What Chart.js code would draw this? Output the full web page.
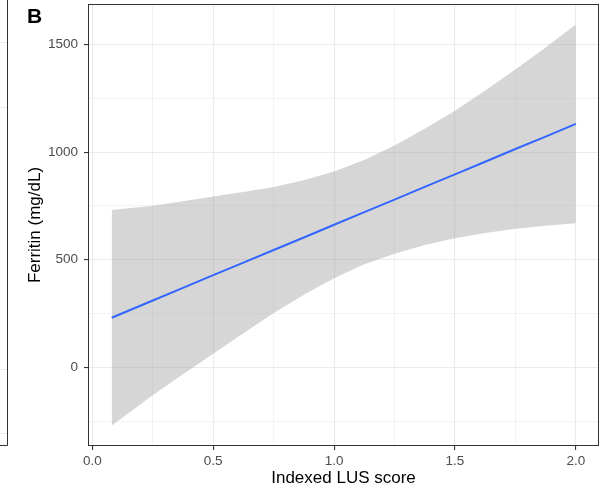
<!DOCTYPE html>
<html lang="en">

<head>
    <meta charset="UTF-8">
    <title>Ferritin vs Indexed LUS score</title>
    <script src="https://cdn.jsdelivr.net/npm/chart.js"></script>
    <style>
        body { margin: 0; background: #fff; }
        #wrap { width: 608px; height: 493px; position: relative; }
    </style>
</head>

<body>
    <div id="wrap">
        <canvas id="myChart"></canvas>
    </div>
    <script>
        // values
        var scoreX = [0.08, 0.25, 0.375, 0.5, 0.625, 0.75, 0.875, 1.0, 1.125, 1.25, 1.375, 1.5, 1.625, 1.75, 1.875, 2.0];
        var fitLine = [230, 310, 369, 428, 486, 545, 603, 662, 721, 779, 838, 896, 955, 1014, 1072, 1131];
        var upperCI = [731, 750, 771, 793, 814, 838, 869, 910, 963, 1031, 1108, 1192, 1286, 1384, 1486, 1593];
        var lowerCI = [-271, -130, -33, 63, 158, 252, 337, 414, 479, 527, 568, 600, 624, 644, 658, 669];
        var xTickLabels = [0, 0.5, 1, 1.5, 2];
        var yTickLabels = [0, 500, 1000, 1500];
        // grid lines (major + minor)
        var xGrid = [0, 0.25, 0.5, 0.75, 1, 1.25, 1.5, 1.75, 2];
        var yGrid = [-250, 0, 250, 500, 750, 1000, 1250, 1500];

        function pts(ys) {
            return scoreX.map(function (x, i) { return { x: x, y: ys[i] }; });
        }
        function isMajor(list, v) {
            return list.some(function (m) { return Math.abs(m - v) < 1e-6; });
        }

        var framePlugin = {
            id: 'frame',
            afterDraw: function (chart) {
                var c = chart.ctx, a = chart.chartArea;
                c.save();
                c.strokeStyle = '#333333';
                c.lineWidth = 1;
                c.strokeRect(Math.round(a.left) + 0.5, Math.round(a.top) + 0.5,
                    Math.round(a.right - a.left) - 1, Math.round(a.bottom - a.top) - 1);
                // edge of the neighbouring panel
                c.strokeStyle = '#ebebeb';
                [42, 107, 369, 433].forEach(function (y) {
                    c.beginPath(); c.moveTo(0, y + 0.5); c.lineTo(7, y + 0.5); c.stroke();
                });
                c.strokeStyle = '#333333';
                c.beginPath();
                c.moveTo(0, 445.5); c.lineTo(7.5, 445.5); c.lineTo(7.5, 0);
                c.stroke();
                // panel tag
                c.fillStyle = '#000';
                c.font = 'bold 21px "Liberation Sans", Arial, sans-serif';
                c.textBaseline = 'alphabetic';
                c.fillText('B', 27, 23);
                c.restore();
            }
        };

        var ctx01 = document.getElementById('myChart');
        var chart01 = new Chart(ctx01, {
            type: 'line',
            data: {
                datasets: [{
                    label: 'fit',
                    data: pts(fitLine),
                    borderColor: '#3366FF',
                    borderWidth: 2,
                    pointRadius: 0,
                    fill: false
                }, {
                    label: 'upper',
                    data: pts(upperCI),
                    borderWidth: 0,
                    borderColor: 'rgba(0,0,0,0)',
                    backgroundColor: 'rgba(153,153,153,0.4)',
                    pointRadius: 0,
                    fill: '+1'
                }, {
                    label: 'lower',
                    data: pts(lowerCI),
                    borderWidth: 0,
                    borderColor: 'rgba(0,0,0,0)',
                    pointRadius: 0,
                    fill: false
                }]
            },
            options: {
                responsive: true,
                maintainAspectRatio: false,
                animation: false,
                layout: { padding: { left: 0, right: 9, top: 4, bottom: 0 } },
                plugins: {
                    legend: { display: false },
                    tooltip: { enabled: false }
                },
                scales: {
                    x: {
                        type: 'linear',
                        min: -0.018,
                        max: 2.096,
                        afterBuildTicks: function (s) { s.ticks = xGrid.map(function (v) { return { value: v }; }); },
                        afterFit: function (s) { s.height = 47; s.paddingLeft = 0; s.paddingRight = 0; },
                        border: { display: false },
                        grid: {
                            color: '#ebebeb',
                            lineWidth: function (c) { return c.tick && isMajor(xTickLabels, c.tick.value) ? 1.1 : 0.6; },
                            tickColor: function (c) { return c.tick && isMajor(xTickLabels, c.tick.value) ? '#333333' : 'rgba(0,0,0,0)'; },
                            tickLength: 4
                        },
                        ticks: {
                            autoSkip: false,
                            maxRotation: 0,
                            padding: 3,
                            color: '#4d4d4d',
                            font: { family: '"Liberation Sans", Arial, sans-serif', size: 13.5 },
                            callback: function (v) { return isMajor(xTickLabels, v) ? v.toFixed(1) : ''; }
                        },
                        title: {
                            display: true,
                            text: 'Indexed LUS score',
                            color: '#000',
                            font: { family: '"Liberation Sans", Arial, sans-serif', size: 17 },
                            padding: { top: 0, bottom: 4 }
                        }
                    },
                    y: {
                        type: 'linear',
                        min: -366,
                        max: 1688,
                        afterBuildTicks: function (s) { s.ticks = yGrid.map(function (v) { return { value: v }; }); },
                        afterFit: function (s) { s.width = 88; s.paddingTop = 0; s.paddingBottom = 0; },
                        border: { display: false },
                        grid: {
                            color: '#ebebeb',
                            lineWidth: function (c) { return c.tick && isMajor(yTickLabels, c.tick.value) ? 1.1 : 0.6; },
                            tickColor: function (c) { return c.tick && isMajor(yTickLabels, c.tick.value) ? '#333333' : 'rgba(0,0,0,0)'; },
                            tickLength: 4
                        },
                        ticks: {
                            autoSkip: false,
                            padding: 6,
                            color: '#4d4d4d',
                            font: { family: '"Liberation Sans", Arial, sans-serif', size: 13.5 },
                            callback: function (v) { return isMajor(yTickLabels, v) ? String(v) : ''; }
                        },
                        title: {
                            display: true,
                            text: 'Ferritin (mg/dL)',
                            color: '#000',
                            font: { family: '"Liberation Sans", Arial, sans-serif', size: 17 },
                            padding: { top: 25, bottom: 0 }
                        }
                    }
                }
            },
            plugins: [framePlugin]
        });
    </script>
</body>

</html>
